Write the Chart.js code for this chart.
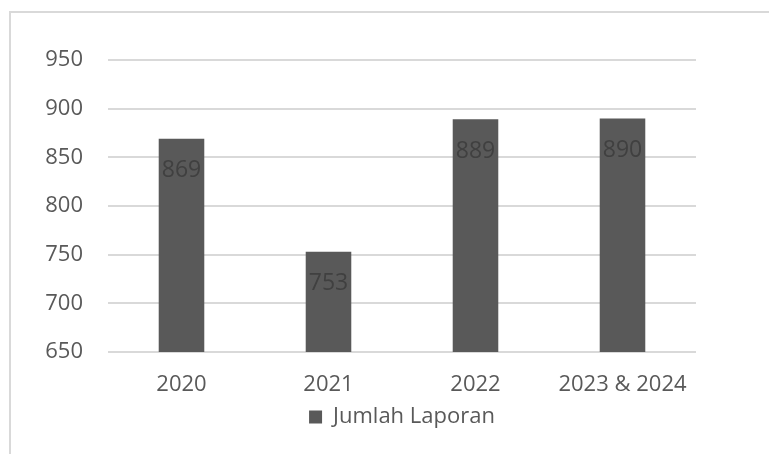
<!DOCTYPE html>
<html>
<head>
<meta charset="utf-8">
<script src="https://cdn.jsdelivr.net/npm/chart.js@4"></script>
<style>
  html, body { margin: 0; padding: 0; background: #fff; }
  .frame {
    position: absolute; left: 9px; top: 11px;
    width: 800px; height: 500px;
    border: 2px solid #d9d9d9;
  }
  .wrap { position: absolute; left: 0; top: 0; width: 769px; height: 454px; }
</style>
</head>
<body>
<div class="frame"></div>
<div class="wrap"><canvas id="chart" width="769" height="454"></canvas></div>
<script>
// data
var years = ['2020', '2021', '2022', '2023 & 2024'];
var laporan = [869, 753, 889, 890];
var seriesName = 'Jumlah Laporan';

const FONT = "'Open Sans', 'Noto Sans', sans-serif";

// labels drawn inside the top of each bar
var valueLabels = {
  id: 'valueLabels',
  afterDatasetsDraw(chart) {
    let ctx = chart.ctx;
    let meta = chart.getDatasetMeta(0);
    ctx.save();
    ctx.font = '23px ' + FONT;
    ctx.fillStyle = '#404040';
    ctx.textAlign = 'center';
    ctx.textBaseline = 'middle';
    meta.data.forEach(function (bar, i) {
      ctx.fillText(laporan[i], bar.x, bar.y + 32);
    });
    ctx.restore();
  }
};

// center the legend under the plot area instead of the whole canvas
var legendUnderPlot = {
  id: 'legendUnderPlot',
  beforeDraw(chart) {
    if (!chart.legend) return;
    chart.legend.left = chart.chartArea.left;
    chart.legend.right = chart.chartArea.right;
  }
};

var ctx = document.getElementById('chart').getContext('2d');
var chart = new Chart(ctx, {
  type: 'bar',
  data: {
    labels: years,
    datasets: [{
      label: seriesName,
      data: laporan,
      backgroundColor: '#595959',
      borderWidth: 0,
      categoryPercentage: 1,
      barPercentage: 0.31
    }]
  },
  options: {
    responsive: false,
    animation: false,
    layout: { padding: { top: 60, right: 73, bottom: 16, left: 0 } },
    scales: {
      y: {
        min: 650,
        max: 950,
        ticks: { stepSize: 50, padding: 25, color: '#595959', font: { family: FONT, size: 22 } },
        grid: { color: '#d9d9d9', lineWidth: 2, drawTicks: false },
        border: { display: false },
        afterFit: function (scale) { scale.width = 108; }
      },
      x: {
        ticks: { padding: 20, color: '#595959', font: { family: FONT, size: 22 }, maxRotation: 0 },
        grid: { display: false, drawTicks: false },
        border: { display: false },
        afterFit: function (scale) { scale.height = 46; }
      }
    },
    plugins: {
      legend: {
        position: 'bottom',
        labels: {
          color: '#595959',
          font: { family: FONT, size: 22 },
          boxWidth: 13,
          boxHeight: 13,
          padding: 8
        }
      },
      tooltip: { enabled: false }
    }
  },
  plugins: [valueLabels, legendUnderPlot]
});
</script>
</body>
</html>
